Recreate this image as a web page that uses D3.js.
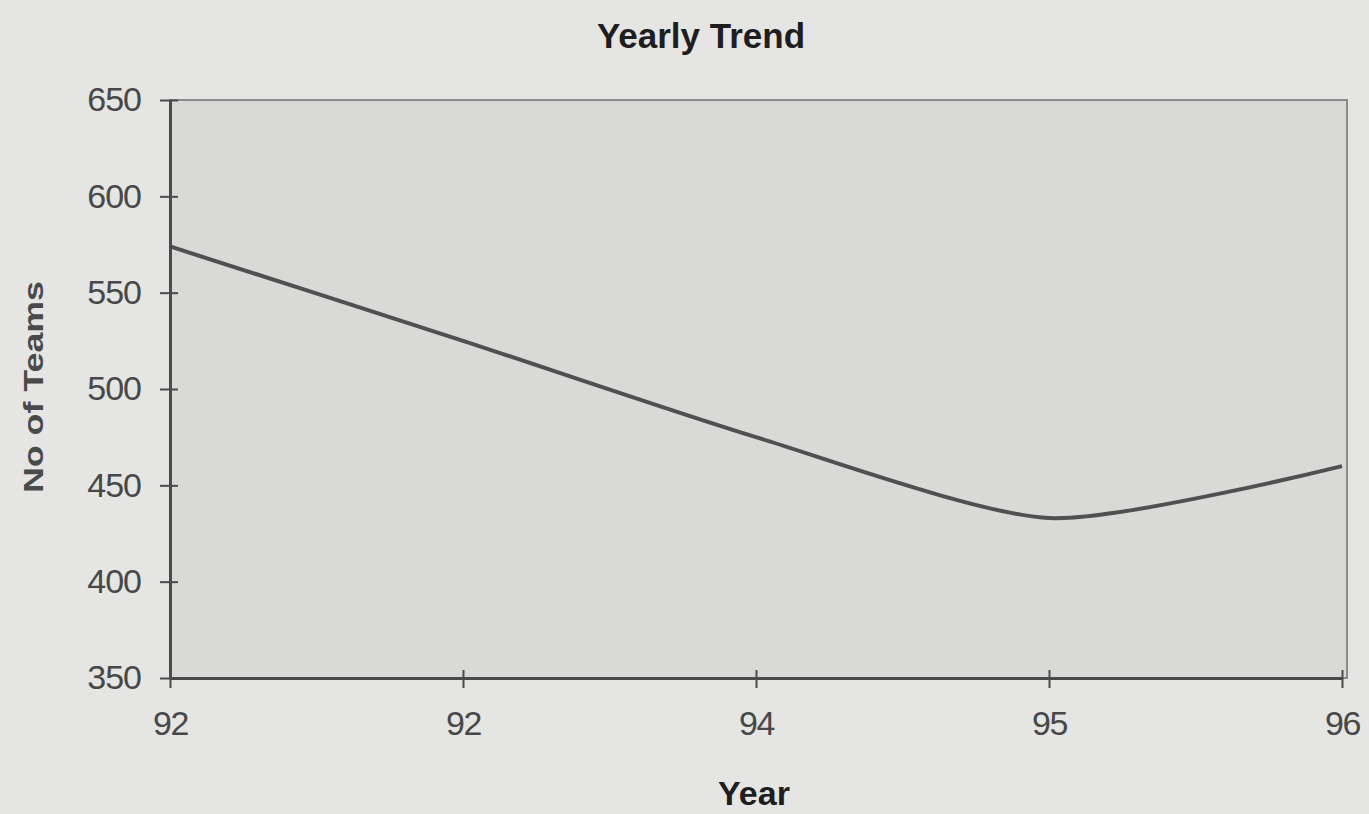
<!DOCTYPE html>
<html>
<head>
<meta charset="utf-8">
<script src="https://cdn.jsdelivr.net/npm/d3@7"></script>
<style>
  body { margin: 0; background: #e5e5e3; }
  svg { display: block; font-family: "Liberation Sans", Arial, sans-serif; }
</style>
</head>
<body>
<svg class="chart"></svg>
<script>
const years = ['92', '92 ', '94', '95', '96'];
const teams = [574, 525, 475, 433, 460];
const yTicks = [350, 400, 450, 500, 550, 600, 650];

const width = 1369, height = 814;
const margins = {top: 100, right: 22, bottom: 136, left: 170};

const svg = d3.select('.chart')
    .attr('width', width)
    .attr('height', height);

const xScale = d3.scalePoint()
    .domain(years)
    .range([margins.left, width - margins.right - 5]);

const yScale = d3.scaleLinear()
    .domain([350, 650])
    .range([height - margins.bottom, margins.top]);

// plot area
svg.append('rect')
    .attr('x', margins.left)
    .attr('y', margins.top)
    .attr('width', width - margins.right - margins.left)
    .attr('height', height - margins.bottom - margins.top)
    .attr('fill', '#d9d9d7')
    .attr('stroke', '#8a8a8a')
    .attr('stroke-width', 2);

const line = d3.line()
    .x((d, i) => xScale(years[i]))
    .y(d => yScale(d))
    .curve(d3.curveCardinal.tension(0.3));

svg.append('path')
    .datum(teams)
    .attr('d', line)
    .attr('fill', 'none')
    .attr('stroke', '#505050')
    .attr('stroke-width', 4);

const xAxis = svg.append('g')
    .attr('transform', 'translate(0,' + (height - margins.bottom) + ')')
    .call(d3.axisBottom(xScale).tickSize(0).tickPadding(33).tickFormat(d => d.trim()));
xAxis.select('.domain').attr('stroke', '#4a4a4a').attr('stroke-width', 3);
xAxis.selectAll('.tick').append('line')
    .attr('y1', -8).attr('y2', 10)
    .attr('stroke', '#4a4a4a').attr('stroke-width', 2);
xAxis.selectAll('text')
    .style('font-size', '34px')
    .style('letter-spacing', '-1.5px')
    .attr('fill', '#484848');

const yAxis = svg.append('g')
    .attr('transform', 'translate(' + margins.left + ',0)')
    .call(d3.axisLeft(yScale).tickValues(yTicks).tickSize(0).tickPadding(29));
yAxis.select('.domain').attr('stroke', '#4a4a4a').attr('stroke-width', 3);
yAxis.selectAll('.tick').append('line')
    .attr('x1', -10).attr('x2', 8)
    .attr('stroke', '#4a4a4a').attr('stroke-width', 2);
yAxis.selectAll('text')
    .style('font-size', '34px')
    .style('letter-spacing', '-1px')
    .attr('fill', '#484848');

svg.append('text')
    .attr('x', 701)
    .attr('y', 48)
    .style('text-anchor', 'middle')
    .style('font-size', '35px')
    .style('font-weight', 'bold')
    .attr('fill', '#1e1e1e')
    .text('Yearly Trend');

svg.append('text')
    .attr('x', 754)
    .attr('y', 805)
    .style('text-anchor', 'middle')
    .style('font-size', '34px')
    .style('font-weight', 'bold')
    .attr('fill', '#1e1e1e')
    .text('Year');

svg.append('text')
    .attr('transform', 'translate(43,387) rotate(-90)')
    .style('text-anchor', 'middle')
    .style('font-size', '27px')
    .style('font-weight', 'bold')
    .attr('textLength', 212)
    .attr('lengthAdjust', 'spacingAndGlyphs')
    .attr('fill', '#4a4a4a')
    .text('No of Teams');
</script>
</body>
</html>
